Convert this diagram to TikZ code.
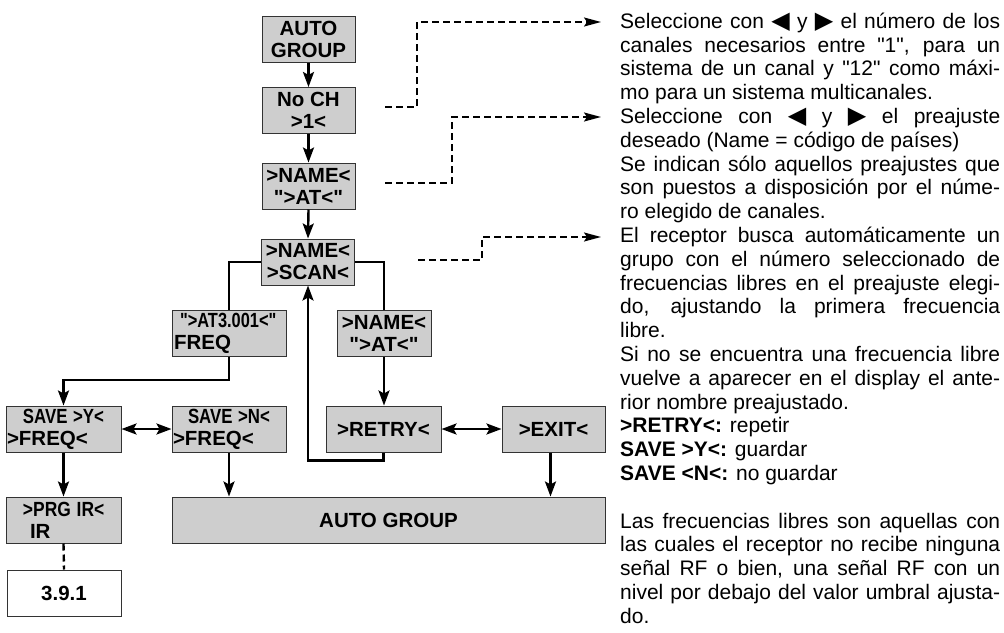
\documentclass[tikz,border=0pt]{standalone}
\usepackage{graphicx}
\usepackage{fontspec}
\setmainfont{Liberation Sans}[Ligatures=TeXOff]
\newfontfamily\symfnt{DejaVu Sans}
\usetikzlibrary{arrows.meta,calc}
\definecolor{boxgray}{RGB}{206,206,206}
\newcommand{\leftTri}{{\symfnt\fontsize{24}{24}\selectfont ◀}}
\newcommand{\rightTri}{{\symfnt\fontsize{24}{24}\selectfont ▶}}
\newcommand{\lblfont}{\fontsize{20.5}{22}\selectfont\bfseries}
\newcommand{\narrow}[2]{\scalebox{#1}[1]{#2}}
\begin{document}
\begin{tikzpicture}[x=1pt,y=-1pt,
  box/.style={draw=black!80, line width=1pt, fill=boxgray, inner sep=0pt, font=\lblfont, minimum height=46pt},
  ln/.style={line width=2.4pt},
  arr/.style={line width=2.4pt, -{Stealth[length=15pt,width=11pt,inset=3pt]}},
  dbl/.style={line width=2.4pt, {Stealth[length=15pt,width=11pt,inset=3pt]}-{Stealth[length=15pt,width=11pt,inset=3pt]}},
  dsh/.style={line width=1.8pt, dash pattern=on 7pt off 4pt, -{Stealth[length=17pt,width=9pt,inset=3pt]}},
  dashln/.style={line width=2.4pt, dash pattern=on 7pt off 4pt}]
\fill[white] (0,0) rectangle (1004,632);
\useasboundingbox (0,0) rectangle (1004,632);

% boxes
\node[box, minimum width=93pt, align=center] (ag1) at (308.5,39) {AUTO\\GROUP};
\node[box, minimum width=93pt, align=center] (noch) at (308.5,110.5) {No CH\\>1<};
\node[box, minimum width=93pt, align=center] (name1) at (308.5,186) {>NAME<\\">AT<"};
\node[box, minimum width=93pt, align=center] (scan) at (308,262) {>NAME<\\>SCAN<};
\node[box, text width=110pt, align=left, inner xsep=2pt] (freq) at (229,333.5) {\hspace*{6pt}\narrow{0.8}{">AT3.001<"}\\FREQ};
\node[box, minimum width=94pt, align=center] (name2) at (384,333.5) {>NAME<\\">AT<"};
\node[box, text width=113pt, align=left, inner xsep=1pt] (savey) at (63.5,429) {\hspace*{16pt}\narrow{0.82}{SAVE >Y<}\\>FREQ<};
\node[box, text width=112pt, align=left, inner xsep=1pt] (saven) at (229,429) {\hspace*{15pt}\narrow{0.82}{SAVE >N<}\\>FREQ<};
\node[box, minimum width=115pt] (retry) at (383.5,429) {>RETRY<};
\node[box, minimum width=103pt] (exit) at (553.5,429) {>EXIT<};
\node[box, text width=113pt, align=left, inner xsep=1pt] (prg) at (63.5,520) {\hspace*{16pt}\narrow{0.85}{>PRG IR<}\\\hspace*{23pt}IR};
\node[box, minimum width=433pt] (big) at (388.5,520) {AUTO GROUP};
\node[box, fill=white, minimum width=114pt] (ref) at (64,593) {3.9.1};

% connectors
\draw[arr] (ag1.south) -- (noch.north);
\draw[arr] (noch.south) -- (name1.north);
\draw[arr] (name1.south) -- (scan.north);
\draw[ln] (scan.west) -| (freq.north);
\draw[ln] (scan.east) -| (name2.north);
\draw[arr] (freq.south) -- ++(0,23) -| (savey.north);
\draw[dbl] (savey.east) -- (saven.west);
\draw[arr] (savey.south) -- (prg.north);
\draw[dashln] (prg.south) -- (ref.north);
\draw[arr] (saven.south) -- (saven.south |- big.north);
\draw[arr] (name2.south) -- (name2.south |- retry.north);
\draw[dbl] (retry.east) -- (exit.west);
\draw[arr] ($(exit.south)+(-3,0)$) -- ($(exit.south |- big.north)+(-3,0)$);
\draw[arr] (retry.south) -- ++(0,8) -| (scan.south);

% dashed pointers
\coordinate (d1s) at (385,107);
\coordinate (d1e) at (601,22);
\coordinate (d2s) at (385,183);
\coordinate (d2e) at (601,117);
\coordinate (d3s) at (418,260);
\coordinate (d3e) at (601,237);
\draw[dsh] (d1s) -- ++(32,0) |- (d1e);
\draw[dsh] (d2s) -- ++(67,0) |- (d2e);
\draw[dsh] (d3s) -- ++(64,0) |- (d3e);

% description text
\node[anchor=north west, inner sep=0pt, text width=380pt, align=justify, font=\fontsize{21}{23.8}\selectfont] (txt) at (620,10) {\tolerance=10000 \hbadness=10000 \hyphenpenalty=10000 \parindent=0pt
\rule{0pt}{18pt}Seleccione con \leftTri{} y \rightTri{} el número de los\linebreak
canales necesarios entre "1", para un\linebreak
sistema de un canal y "12" como máxi-\linebreak
mo para un sistema multicanales.\\
Seleccione con \leftTri{} y \rightTri{} el preajuste\linebreak
deseado (Name = código de países)\\
Se indican sólo aquellos preajustes que\linebreak
son puestos a disposición por el núme-\linebreak
ro elegido de canales.\\
El receptor busca automáticamente un\linebreak
grupo con el número seleccionado de\linebreak
frecuencias libres en el preajuste elegi-\linebreak
do, ajustando la primera frecuencia\linebreak
libre.\\
Si no se encuentra una frecuencia libre\linebreak
vuelve a aparecer en el display el ante-\linebreak
rior nombre preajustado.\\
\textbf{>RETRY<:} repetir\\
\textbf{SAVE >Y<:} guardar\\
\textbf{SAVE <N<:} no guardar\\[23.8pt]
Las frecuencias libres son aquellas con\linebreak
las cuales el receptor no recibe ninguna\linebreak
señal RF o bien, una señal RF con un\linebreak
nivel por debajo del valor umbral ajusta-\linebreak
do.};
\end{tikzpicture}
\end{document}
